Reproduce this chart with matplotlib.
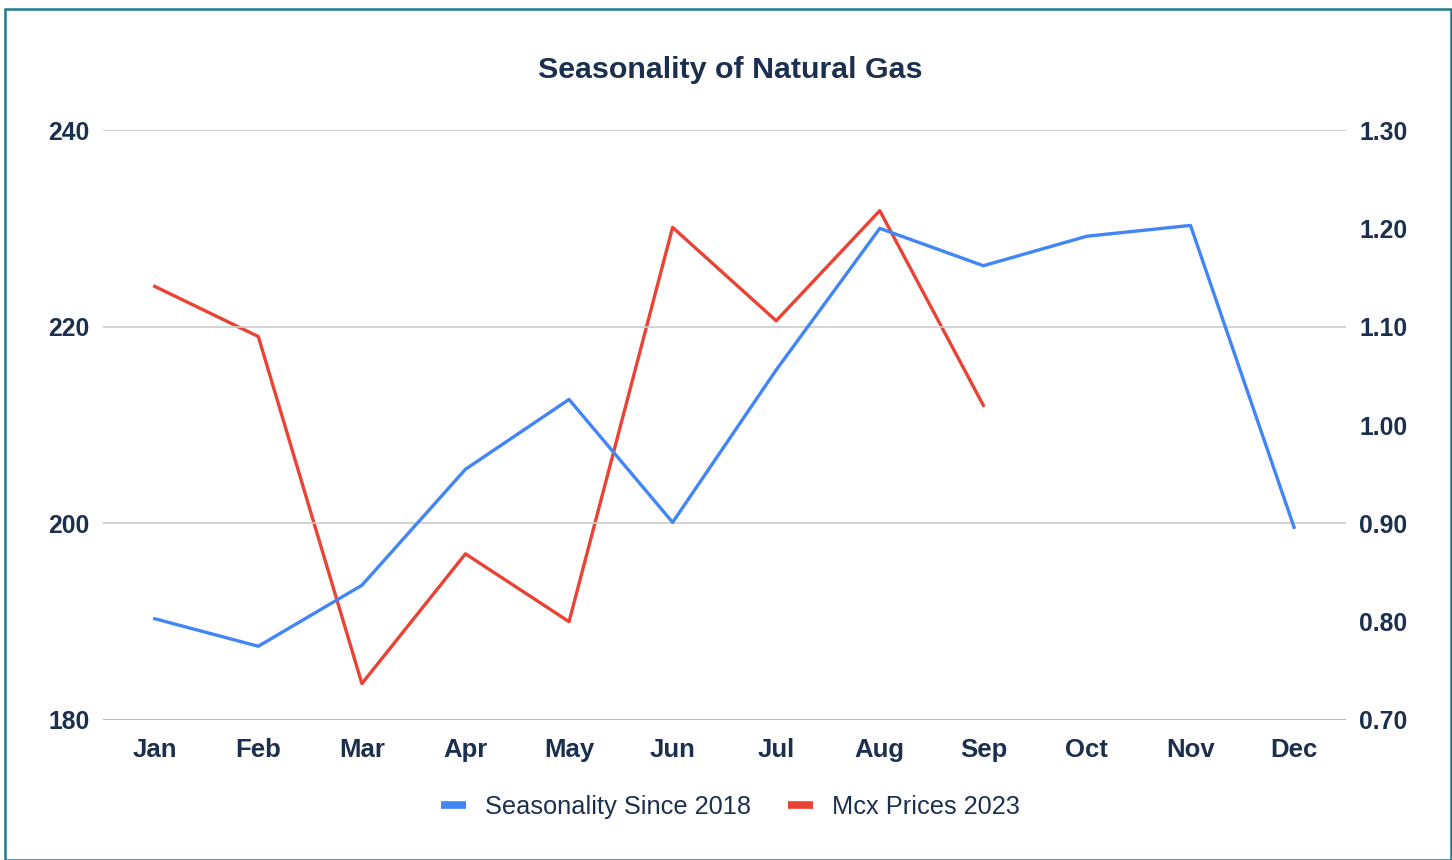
import numpy as np
import matplotlib.pyplot as plt
from matplotlib.patches import Rectangle

months = ["Jan", "Feb", "Mar", "Apr", "May", "Jun", "Jul", "Aug", "Sep", "Oct", "Nov", "Dec"]
seasonality = [190.3, 187.5, 193.7, 205.5, 212.6, 200.1, 215.6, 230.0, 226.2, 229.2, 230.3, 199.6]
mcx_2023 = [1.141, 1.090, 0.737, 0.869, 0.800, 1.201, 1.106, 1.218, 1.020]

left_ticks = [180, 200, 220, 240]
right_ticks = [0.70, 0.80, 0.90, 1.00, 1.10, 1.20, 1.30]

blue = "#4285f4"
red = "#ea4335"
txt = "#1b2f4e"

plt.rcParams['font.family'] = ['Liberation Sans', 'DejaVu Sans']

fig = plt.figure(figsize=(14.52, 8.6), dpi=100)
fig.patches.append(Rectangle((0.0035, 0.0), 0.9955, 0.9895, transform=fig.transFigure,
                             fill=False, edgecolor="#1f7a8c", linewidth=1.8))

ax = fig.add_axes([0.0709, 0.1628, 0.856, 0.686])
ax2 = ax.twinx()

x = np.arange(len(months))
ax.plot(x, seasonality, color=blue, linewidth=2.4, label="Seasonality Since 2018", zorder=3)
ax2.plot(x[:len(mcx_2023)], mcx_2023, color=red, linewidth=2.4, label="Mcx Prices 2023", zorder=3)

ax.set_xlim(-0.5, 11.5)
ax.set_ylim(180, 240)
ax2.set_ylim(0.70, 1.30)
ax.set_yticks(left_ticks)
ax2.set_yticks(right_ticks)
ax2.set_yticklabels([f"{v:.2f}" for v in right_ticks])
ax.set_xticks(x)
ax.set_xticklabels(months)

for a in (ax, ax2):
    for s in a.spines.values():
        s.set_visible(False)
    a.tick_params(length=0, labelsize=17.8, colors=txt)
    for lab in a.get_xticklabels() + a.get_yticklabels():
        lab.set_fontweight("bold")
ax.tick_params(axis="x", pad=13, labelsize=18.5)
ax.tick_params(axis="y", pad=9.5)
ax2.tick_params(axis="y", pad=9.5)

ax.grid(axis="y", color="#cccccc", linewidth=1.2)
ax.set_axisbelow(True)
ax.set_zorder(ax2.get_zorder() + 1)
ax.patch.set_visible(False)
ax.axhline(180, color="#bbbbbb", linewidth=1.4, zorder=1)

fig.text(0.503, 0.919, "Seasonality of Natural Gas", ha="center", va="center",
         fontsize=21.9, fontweight="bold", color=txt)

h1, l1 = ax.get_legend_handles_labels()
h2, l2 = ax2.get_legend_handles_labels()
leg = fig.legend(h1 + h2, l1 + l2, loc="center", bbox_to_anchor=(0.503, 0.062), ncol=2,
                 frameon=False, fontsize=18.3, handlelength=1.0, handletextpad=0.75,
                 columnspacing=1.45)
for line in leg.get_lines():
    line.set_linewidth(5.5)
    line.set_solid_capstyle("butt")
for t in leg.get_texts():
    t.set_color(txt)

fig.savefig("out.png", dpi=100)
